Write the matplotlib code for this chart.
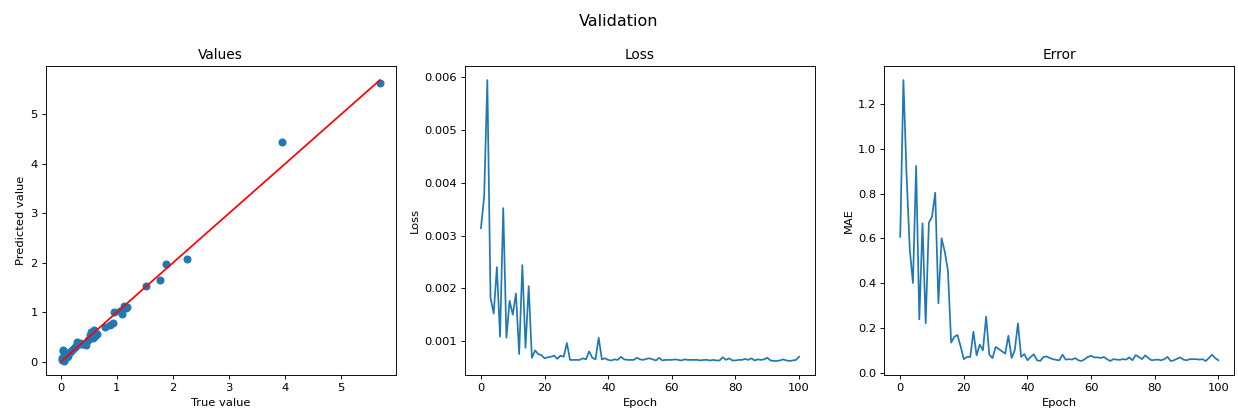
import matplotlib
matplotlib.use("Agg")
import matplotlib.pyplot as plt
import numpy as np

# scatter: true vs predicted
true_vals = [5.69, 3.95, 2.26, 1.87, 1.78, 1.53, 1.19, 1.13, 1.09, 1.16,
             0.95, 0.94, 0.88, 0.79, 0.64, 0.60, 0.58, 0.52, 0.55, 0.46,
             0.40, 0.34, 0.30, 0.25, 0.22, 0.19, 0.16, 0.14, 0.10, 0.07,
             0.05, 0.04, 0.03, 0.02, 0.06, 0.08, 0.12, 0.28, 0.36, 0.48,
             0.62, 1.05]
pred_vals = [5.64, 4.45, 2.07, 1.98, 1.65, 1.54, 1.11, 1.13, 0.96, 1.09,
             1.00, 0.79, 0.74, 0.70, 0.57, 0.64, 0.49, 0.55, 0.60, 0.34,
             0.37, 0.39, 0.41, 0.30, 0.27, 0.23, 0.20, 0.13, 0.15, 0.12,
             0.22, 0.24, 0.07, 0.04, 0.02, 0.09, 0.10, 0.33, 0.36, 0.44,
             0.52, 1.02]

epochs = list(range(101))

loss = [0.00314, 0.00374, 0.00595, 0.00182, 0.00152, 0.00240, 0.00108, 0.00352, 0.00106, 0.00176,
        0.00150, 0.00190, 0.00075, 0.00244, 0.00087, 0.00204, 0.00068, 0.00082, 0.00075, 0.00073,
        0.00067, 0.00069, 0.00070, 0.00072, 0.00066, 0.00072, 0.00070, 0.00096, 0.00064, 0.00064,
        0.00064, 0.00064, 0.00067, 0.00065, 0.00080, 0.00068, 0.00065, 0.00106, 0.00065, 0.00067,
        0.00064, 0.00063, 0.00065, 0.00064, 0.00070, 0.00065, 0.00064, 0.00064, 0.00064, 0.00068,
        0.00065, 0.00064, 0.00066, 0.00067, 0.00065, 0.00063, 0.00068, 0.00063, 0.00064, 0.00064,
        0.00064, 0.00065, 0.00064, 0.00063, 0.00065, 0.00064, 0.00064, 0.00064, 0.00064, 0.00063,
        0.00064, 0.00064, 0.00063, 0.00064, 0.00063, 0.00063, 0.00069, 0.00064, 0.00067, 0.00063,
        0.00063, 0.00064, 0.00064, 0.00066, 0.00064, 0.00067, 0.00063, 0.00065, 0.00064, 0.00065,
        0.00068, 0.00063, 0.00062, 0.00062, 0.00063, 0.00065, 0.00063, 0.00062, 0.00063, 0.00064,
        0.00070]

mae = [0.607, 1.307, 0.880, 0.550, 0.400, 0.923, 0.238, 0.667, 0.220, 0.670,
       0.697, 0.804, 0.310, 0.600, 0.540, 0.455, 0.134, 0.160, 0.168, 0.116,
       0.060, 0.070, 0.070, 0.183, 0.077, 0.125, 0.100, 0.250, 0.080, 0.065,
       0.115, 0.105, 0.095, 0.085, 0.165, 0.065, 0.100, 0.220, 0.070, 0.083,
       0.055, 0.070, 0.082, 0.055, 0.052, 0.070, 0.072, 0.065, 0.060, 0.057,
       0.055, 0.080, 0.058, 0.060, 0.058, 0.065, 0.055, 0.052, 0.060, 0.070,
       0.075, 0.068, 0.068, 0.065, 0.070, 0.060, 0.052, 0.060, 0.058, 0.057,
       0.060, 0.058, 0.068, 0.055, 0.078, 0.070, 0.060, 0.077, 0.065, 0.055,
       0.057, 0.058, 0.055, 0.060, 0.070, 0.052, 0.055, 0.062, 0.068, 0.058,
       0.055, 0.060, 0.060, 0.060, 0.058, 0.060, 0.052, 0.065, 0.080, 0.065,
       0.055]

dpi = 82.5
fig, (ax1, ax2, ax3) = plt.subplots(1, 3, figsize=(1238 / dpi, 413 / dpi), dpi=dpi)
fig.subplots_adjust(left=0.037, right=0.997, bottom=0.092, top=0.84, wspace=0.198)
fig.suptitle("Validation", fontsize=14, y=0.965)

ax1.scatter(true_vals, pred_vals)
lo, hi = min(true_vals), max(true_vals)
ax1.plot([lo, hi], [lo, hi], color="red")
ax1.set_title("Values")
ax1.set_xlabel("True value")
ax1.set_ylabel("Predicted value")

ax2.plot(epochs, loss)
ax2.set_title("Loss")
ax2.set_xlabel("Epoch")
ax2.set_ylabel("Loss")

ax3.plot(epochs, mae)
ax3.set_title("Error")
ax3.set_xlabel("Epoch")
ax3.set_ylabel("MAE")

fig.savefig("out.png", dpi=dpi)
